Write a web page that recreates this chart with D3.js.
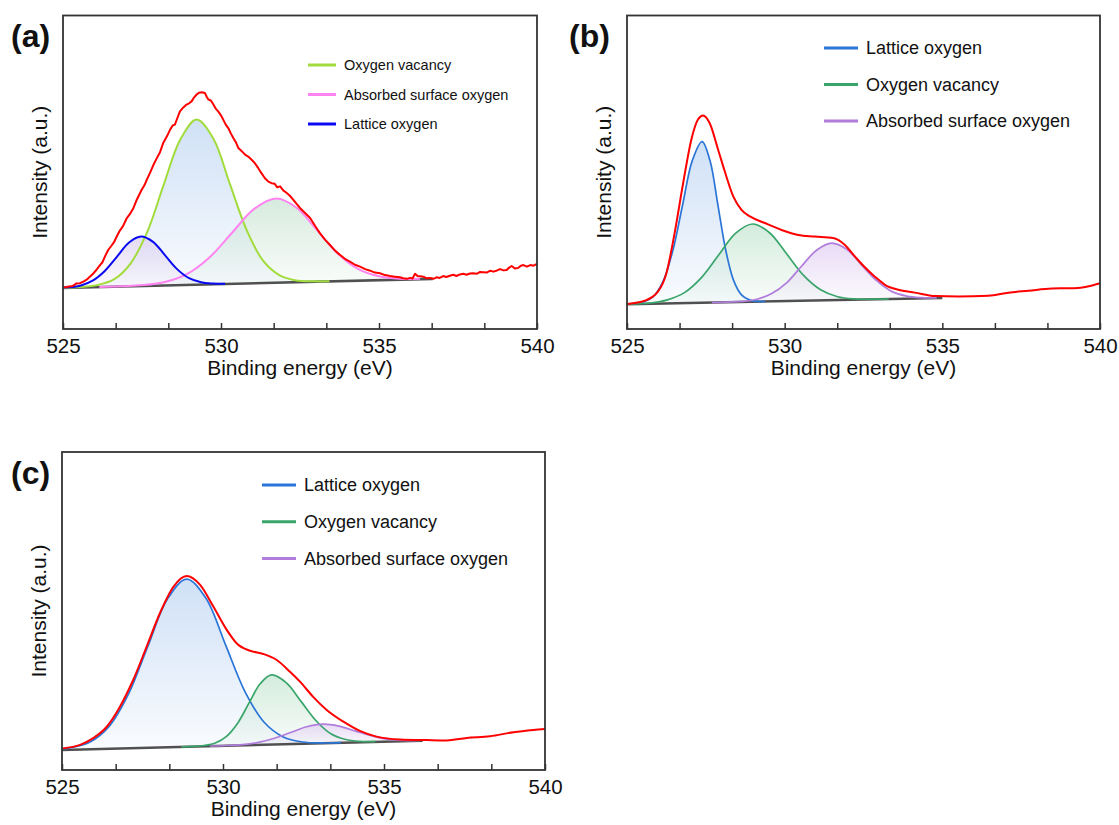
<!DOCTYPE html>
<html><head><meta charset="utf-8">
<script src="https://cdn.jsdelivr.net/npm/d3@7"></script>
<style>body{margin:0;background:#fff} text{font-family:"Liberation Sans",Arial,sans-serif;fill:#111}</style>
</head><body><svg id="c" width="1119" height="825"></svg>
<script>
// ---------- shared ----------
const xTickValues = [525, 526.667, 528.333, 530, 531.667, 533.333, 535, 536.667, 538.333, 540];
const xTickLabels = ["525", "", "", "530", "", "", "535", "", "", "540"];
const xTitle = "Binding energy (eV)";
const yTitle = "Intensity (a.u.)";

// ---------- panel (a) ----------
const aLegend = ["Oxygen vacancy", "Absorbed surface oxygen", "Lattice oxygen"];
const aBaseE = [525, 536.7];
const aBaseI = [13.1, 16.0];
const aVacE = [525.03, 525.56, 526.08, 526.61, 527.13, 527.66, 528.18, 528.71, 529.23, 529.76, 530.28, 530.81, 531.33, 531.86, 532.38, 532.91, 533.43];
const aVacI = [13.1, 13.4, 14.0, 15.8, 20.8, 30.8, 45.8, 60.4, 66.8, 60.7, 46.3, 31.6, 21.8, 17.1, 15.5, 15.2, 15.2];
const aAbsE = [526.15, 526.85, 527.55, 528.25, 528.95, 529.65, 530.35, 531.05, 531.75, 532.4, 533.05, 533.7, 534.35, 535.0, 535.65, 536.3];
const aAbsI = [13.4, 13.6, 14.0, 15.1, 17.7, 23.0, 30.7, 38.3, 41.6, 38.6, 31.4, 24.0, 19.1, 16.8, 16.0, 16.0];
const aLatE = [525.0, 525.19, 525.57, 525.95, 526.33, 526.71, 527.09, 527.47, 527.85, 528.23, 528.61, 528.99, 529.37, 529.75, 530.13];
const aLatI = [13.2, 13.3, 13.9, 15.5, 18.6, 23.1, 27.6, 29.5, 27.8, 23.5, 19.1, 16.2, 14.9, 14.5, 14.4];
const aEnvE = [525.00,525.15,525.30,525.42,525.54,525.66,525.76,525.85,525.95,526.06,526.17,526.25,526.34,526.43,526.52,526.61,526.70,526.80,526.90,527.02,527.12,527.23,527.32,527.40,527.49,527.58,527.66,527.75,527.86,527.97,528.07,528.17,528.28,528.39,528.47,528.54,528.62,528.70,528.80,528.91,528.99,529.07,529.15,529.23,529.31,529.39,529.49,529.55,529.60,529.68,529.76,529.84,529.91,529.99,530.07,530.15,530.23,530.31,530.39,530.47,530.55,530.65,530.76,530.86,530.97,531.07,531.18,531.28,531.39,531.50,531.60,531.70,531.78,531.87,531.97,532.08,532.18,532.29,532.40,532.50,532.66,532.82,532.97,533.13,533.29,533.45,533.61,533.77,533.92,534.08,534.24,534.40,534.56,534.72,534.87,535.03,535.19,535.35,535.50,535.66,535.77,535.88,535.98,536.06,536.14,536.22,536.31,536.40,536.50,536.61,536.72,536.82,536.92,537.03,537.13,537.24,537.35,537.45,537.56,537.67,537.77,537.88,537.98,538.09,538.20,538.30,538.41,538.52,538.62,538.72,538.83,538.94,539.04,539.12,539.20,539.30,539.41,539.49,539.57,539.68,539.79,539.89,540.00];
const aEnvI = [13.2,13.5,13.7,14.5,14.6,15.2,15.8,16.7,17.6,18.9,20.4,21.3,23.4,25.2,26.4,27.6,29.5,31.4,32.8,35.4,36.7,38.6,40.9,42.6,44.4,45.9,47.8,49.7,52.3,54.5,56.4,59.3,61.3,63.6,64.9,65.2,67.3,69.4,70.6,71.6,72.0,72.6,73.9,74.8,75.4,75.5,75.3,74.0,73.2,72.9,71.6,70.2,69.4,68.3,66.8,65.2,64.1,62.4,60.9,59.6,57.7,56.8,55.6,55.0,54.0,52.9,51.3,49.7,48.1,47.0,46.5,46.3,45.2,45.5,44.2,43.4,42.5,41.2,39.8,38.6,37.0,35.4,33.0,30.6,28.5,26.8,25.0,23.6,22.4,21.5,20.5,19.9,19.1,18.6,18.0,17.8,17.2,16.9,16.7,16.5,16.2,16.0,16.3,16.1,17.6,16.9,16.8,16.7,16.2,16.3,16.0,16.5,16.3,16.9,16.6,17.0,17.3,16.9,17.4,17.6,17.3,17.7,17.8,17.6,18.2,18.1,18.0,18.6,18.3,18.6,19.1,18.7,18.8,19.6,20.1,19.3,19.5,20.2,20.4,19.9,20.4,20.2,20.8];

// ---------- panel (b) ----------
const bLegend = ["Lattice oxygen", "Oxygen vacancy", "Absorbed surface oxygen"];
const bBaseE = [525, 535];
const bBaseI = [7.9, 9.9];
const bLatE = [525.0, 525.21, 525.52, 525.83, 526.14, 526.45, 526.76, 527.07, 527.38, 527.63, 527.88, 528.13, 528.38, 528.63, 528.88, 529.13, 529.38];
const bLatI = [7.9, 8.1, 8.6, 10.3, 15.1, 24.9, 39.4, 53.7, 59.8, 53.8, 39.7, 25.2, 15.5, 10.9, 9.3, 8.8, 8.8];
const bVacE = [525.0, 525.2, 525.74, 526.28, 526.82, 527.36, 527.9, 528.44, 528.98, 529.52, 530.06, 530.6, 531.14, 531.68, 532.22, 532.76, 533.3];
const bVacI = [7.9, 8.0, 8.3, 9.3, 11.6, 16.4, 23.5, 30.5, 33.5, 30.7, 24.0, 17.1, 12.5, 10.3, 9.6, 9.5, 9.6];
const bAbsE = [527.69, 528.17, 528.64, 529.12, 529.59, 530.07, 530.54, 531.02, 531.49, 531.97, 532.44, 532.92, 533.39, 533.87, 534.34, 534.82];
const bAbsI = [8.4, 8.6, 8.8, 9.5, 11.3, 14.8, 20.1, 25.2, 27.4, 25.4, 20.4, 15.4, 12.0, 10.5, 10.0, 9.9];
const bEnvE = [525.02,525.56,525.98,526.25,526.51,526.78,527.04,527.25,527.41,527.62,527.89,528.10,528.37,528.63,528.90,529.37,529.90,530.43,530.96,531.54,531.91,532.23,532.55,532.86,533.18,533.60,534.13,534.77,535.51,536.46,537.10,537.73,538.47,538.90,539.30,539.75,540.00];
const bEnvI = [8.0,9.0,11.9,17.8,30.6,46.5,60.4,66.8,68.1,65.7,57.2,50.3,42.3,38.0,35.9,33.8,31.6,30.0,29.5,29.0,26.8,23.1,19.6,16.7,14.1,12.5,11.6,10.5,10.4,10.6,11.6,12.2,12.9,13.0,13.1,13.9,14.6];

// ---------- panel (c) ----------
const cLegend = ["Lattice oxygen", "Oxygen vacancy", "Absorbed surface oxygen"];
const cBaseE = [525, 536.2];
const cBaseI = [6.3, 9.2];
const cLatE = [525.0, 525.27, 525.87, 526.47, 527.07, 527.67, 528.27, 528.87, 529.47, 530.07, 530.67, 531.27, 531.87, 532.47, 533.07, 533.67];
const cLatI = [6.6, 7.0, 8.8, 13.8, 24.0, 39.0, 53.7, 60.0, 54.0, 39.6, 24.9, 15.1, 10.4, 8.8, 8.5, 8.6];
const cVacE = [528.71, 529.06, 529.41, 529.76, 530.11, 530.46, 530.81, 531.16, 531.51, 531.97, 532.43, 532.89, 533.35, 533.81, 534.27, 534.73];
const cVacI = [7.3, 7.4, 7.7, 8.5, 10.6, 14.8, 21.1, 27.2, 29.9, 27.4, 21.5, 15.5, 11.4, 9.6, 9.0, 8.9];
const cAbsE = [529.6, 530.1, 530.6, 531.1, 531.6, 532.1, 532.6, 533.1, 533.6, 534.1, 534.6, 535.1, 535.6, 536.1];
const cAbsI = [7.5, 7.7, 8.0, 8.7, 10.0, 11.8, 13.6, 14.4, 13.8, 12.3, 10.8, 9.7, 9.3, 9.3];
const cEnvE = [525.02,525.56,525.97,526.39,526.80,527.21,527.63,528.04,528.46,528.87,529.29,529.70,530.12,530.43,530.84,531.25,531.67,532.08,532.39,532.80,533.22,533.74,534.25,534.77,535.50,536.33,536.95,537.57,538.29,539.02,539.64,540.00];
const cEnvI = [6.8,7.9,10.0,13.6,19.9,28.3,38.8,49.3,57.6,61.0,58.2,51.4,44.0,39.8,37.5,36.5,34.6,30.9,27.8,23.0,18.9,15.2,12.3,10.5,9.6,9.4,9.3,10.1,10.6,11.9,12.6,12.9];

// ---------- drawing ----------
const svg = d3.select("#c");
const defs = svg.append("defs");
const zip = (E, I) => E.map((e, i) => [e, I[i]]);
let gid = 0;
function gradient(color) {
  const id = "g" + (gid++);
  const g = defs.append("linearGradient").attr("id", id).attr("x1", 0).attr("y1", 0).attr("x2", 0).attr("y2", 1);
  g.append("stop").attr("offset", 0).attr("stop-color", color).attr("stop-opacity", 1);
  g.append("stop").attr("offset", 1).attr("stop-color", color).attr("stop-opacity", 0.12);
  return "url(#" + id + ")";
}

function panel(cfg) {
  const x = d3.scaleLinear().domain([525, 540]).range([cfg.left, cfg.right]);
  const y = d3.scaleLinear().domain([0, 100]).range([cfg.bottom, cfg.top]);
  const g = svg.append("g");
  const smooth = d3.line().x(d => x(d[0])).y(d => y(d[1])).curve(d3.curveCatmullRom.alpha(0.5));

  cfg.comps.forEach(c => {
    g.append("path").attr("d", smooth(zip(c.E, c.I)) + "Z")
      .attr("fill", gradient(c.fill)).attr("fill-opacity", 0.8).attr("stroke", "none");
  });
  g.append("path").attr("d", d3.line().x(d => x(d[0])).y(d => y(d[1]))(zip(cfg.baseE, cfg.baseI)))
    .attr("stroke", "#505050").attr("stroke-width", 2.6).attr("fill", "none");
  cfg.comps.forEach(c => {
    g.append("path").attr("d", smooth(zip(c.E, c.I)))
      .attr("fill", "none").attr("stroke", c.line).attr("stroke-width", cfg.compWidth);
  });
  const envLine = d3.line().x(d => x(d[0])).y(d => y(d[1]))
    .curve(cfg.envSmooth ? d3.curveMonotoneX : d3.curveLinear);
  g.append("path").attr("d", envLine(zip(cfg.envE, cfg.envI)))
    .attr("fill", "none").attr("stroke", "#ff0000").attr("stroke-width", 2).attr("stroke-linejoin", "round");

  g.append("rect").attr("x", cfg.left).attr("y", cfg.top)
    .attr("width", cfg.right - cfg.left).attr("height", cfg.bottom - cfg.top)
    .attr("fill", "none").attr("stroke", "#333").attr("stroke-width", 1.8);

  const ax = d3.axisBottom(x).tickValues(xTickValues)
    .tickFormat((d, i) => xTickLabels[i]).tickSizeInner(-6).tickSizeOuter(0).tickPadding(9);
  const axg = g.append("g").attr("transform", `translate(0,${cfg.bottom})`).call(ax);
  axg.select(".domain").remove();
  axg.selectAll(".tick line").attr("stroke", "#333").attr("stroke-width", 1.5);
  axg.selectAll(".tick text").attr("font-size", 20.5).attr("fill", "#111")
    .style("font-family", '"Liberation Sans", Arial, sans-serif');

  g.append("text").attr("x", (cfg.left + cfg.right) / 2).attr("y", cfg.bottom + 46)
    .attr("text-anchor", "middle").attr("font-size", 21).text(xTitle);
  g.append("text").attr("transform", `translate(${cfg.left - 16},${(cfg.top + cfg.bottom) / 2}) rotate(-90)`)
    .attr("text-anchor", "middle").attr("font-size", 21).text(yTitle);

  g.append("text").attr("x", cfg.labelX).attr("y", cfg.labelY)
    .attr("font-size", 32).attr("font-weight", "bold").text(cfg.label);

  cfg.comps.forEach((c, i) => {
    const ly = cfg.legY + i * cfg.legDy;
    g.append("line").attr("x1", cfg.legX).attr("x2", cfg.legX + cfg.legLen).attr("y1", ly).attr("y2", ly)
      .attr("stroke", c.line).attr("stroke-width", 3);
    g.append("text").attr("x", cfg.legX + cfg.legLen + 8).attr("y", ly).attr("dy", "0.35em")
      .attr("font-size", cfg.legFont).text(cfg.legend[i]);
  });
}

panel({
  left: 63, right: 537, top: 15.5, bottom: 329, label: "(a)", labelX: 11, labelY: 47,
  baseE: aBaseE, baseI: aBaseI, envE: aEnvE, envI: aEnvI, envSmooth: false, compWidth: 2,
  legend: aLegend, legX: 308, legY: 65, legDy: 29.5, legLen: 28, legFont: 14.5,
  comps: [
    { E: aVacE, I: aVacI, line: "#a2dc3c", fill: "#c4d9f4" },
    { E: aAbsE, I: aAbsI, line: "#ff84f2", fill: "#cde6d6" },
    { E: aLatE, I: aLatI, line: "#0a0af2", fill: "#ddd2f0" }
  ]
});
panel({
  left: 627, right: 1100, top: 15.5, bottom: 329, label: "(b)", labelX: 569, labelY: 47,
  baseE: bBaseE, baseI: bBaseI, envE: bEnvE, envI: bEnvI, envSmooth: true, compWidth: 1.7,
  legend: bLegend, legX: 824, legY: 48, legDy: 36.5, legLen: 34, legFont: 18,
  comps: [
    { E: bLatE, I: bLatI, line: "#2a75d8", fill: "#c4d9f4" },
    { E: bVacE, I: bVacI, line: "#3aa56b", fill: "#c9e7d4" },
    { E: bAbsE, I: bAbsI, line: "#b07ddc", fill: "#e3d3f3" }
  ]
});
panel({
  left: 62, right: 545, top: 452, bottom: 770, label: "(c)", labelX: 11, labelY: 484,
  baseE: cBaseE, baseI: cBaseI, envE: cEnvE, envI: cEnvI, envSmooth: true, compWidth: 1.7,
  legend: cLegend, legX: 262, legY: 485, legDy: 36.7, legLen: 34, legFont: 18,
  comps: [
    { E: cLatE, I: cLatI, line: "#2a75d8", fill: "#c4d9f4" },
    { E: cVacE, I: cVacI, line: "#3aa56b", fill: "#c9e7d4" },
    { E: cAbsE, I: cAbsI, line: "#b07ddc", fill: "#e3d3f3" }
  ]
});
</script></body></html>
